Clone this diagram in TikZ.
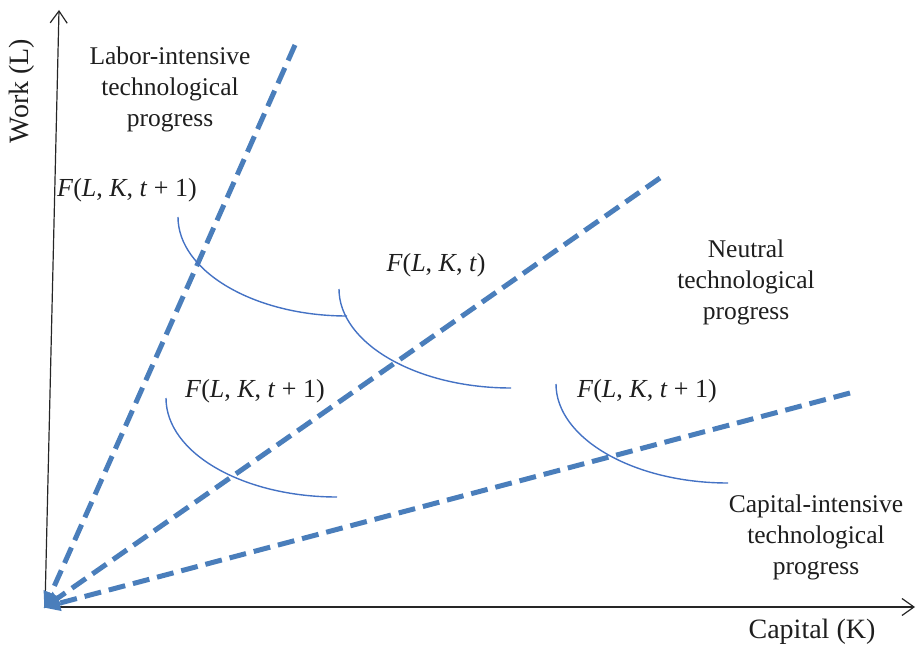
\documentclass[tikz,border=0pt]{standalone}
\usepackage{fontspec}
\setmainfont{Liberation Serif}
\usetikzlibrary{arrows.meta}
\definecolor{dashblue}{RGB}{74,126,187}
\definecolor{curveblue}{RGB}{68,114,196}
\definecolor{txt}{RGB}{30,30,30}
\tikzset{
  axis/.style={line width=1.2pt, black!85, -{Straight Barb[length=12pt,width=17pt,line width=1.2pt]}},
  ray/.style={line width=5pt, dashblue, dash pattern=on 17pt off 8pt, -{Triangle[length=17pt,width=15pt]}, shorten >=-2pt},
  iso/.style={line width=1.4pt, curveblue},
  lbl/.style={text=txt, align=center, font=\fontsize{25.5}{31}\selectfont, inner sep=0pt},
  flbl/.style={text=txt, font=\fontsize{26}{30}\selectfont, inner sep=0pt},
  ttl/.style={text=txt, font=\fontsize{28}{32}\selectfont, inner sep=0pt}
}
\newcommand{\Fl}[1]{\textit{F}(\textit{L}, \textit{K}, \textit{t}#1)}
\begin{document}
\begin{tikzpicture}[x=1pt,y=-1pt]
\useasboundingbox (0,0) rectangle (916,647);
% axes
\coordinate (O) at (45,607);
\coordinate (ytop) at (59,10);
\coordinate (xend) at (915,607);
\draw[axis] (O) -- (ytop);
\draw[axis] (O) -- (xend);
% rays
\coordinate (r1) at (295,45);
\coordinate (r2) at (660,178);
\coordinate (r3) at (850,393);
\draw[ray] (r1) -- (O);
\draw[ray] (r2) -- (O);
\draw[ray] (r3) -- (O);
% isoquants
\draw[iso] (178,217) .. controls (178,271) and (254,316) .. (347,316);
\draw[iso] (339,289) .. controls (339,343) and (416,388) .. (511,388);
\draw[iso] (166,398) .. controls (166,453) and (243,497) .. (337,497);
\draw[iso] (556,384) .. controls (556,438) and (633,483) .. (728,483);
% labels
\node[ttl, rotate=90] (work) at (22,91) {Work (L)};
\node[ttl] (cap) at (812,632) {Capital (K)};
\node[lbl] (labor) at (170,89) {Labor-intensive\\technological\\progress};
\node[lbl] (neutral) at (746,282) {Neutral\\technological\\progress};
\node[lbl] (capint) at (816,537) {Capital-intensive\\technological\\progress};
\node[flbl] (f1) at (127,190) {\Fl{ + 1}};
\node[flbl] (f0) at (436,265) {\Fl{}};
\node[flbl] (f2) at (255,391) {\Fl{ + 1}};
\node[flbl] (f3) at (647,391) {\Fl{ + 1}};
\end{tikzpicture}
\end{document}
